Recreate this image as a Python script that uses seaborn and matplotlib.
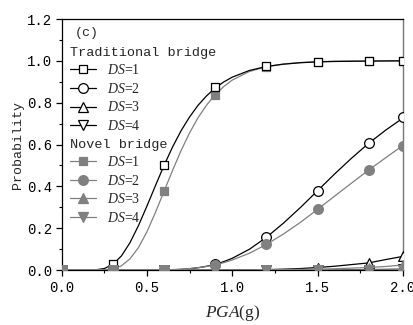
import matplotlib
matplotlib.use("Agg")
import matplotlib.pyplot as plt
from matplotlib.lines import Line2D
from matplotlib.ticker import MultipleLocator
import seaborn as sns

# ---------------- data ----------------
pga_pts = [0.0, 0.3, 0.6, 0.9, 1.2, 1.5, 1.8, 2.0]
trad_ds1_pts = [0.0, 0.027, 0.503, 0.873, 0.976, 0.996, 0.999, 1.0]
trad_ds2_pts = [0.0, 0.0, 0.001, 0.027, 0.156, 0.379, 0.606, 0.730]
trad_ds3_pts = [0.0, 0.0, 0.0, 0.0, 0.002, 0.012, 0.034, 0.065]
trad_ds4_pts = [0.0, 0.0, 0.0, 0.0, 0.0, 0.0, 0.002, 0.004]
novel_ds1_pts = [0.0, 0.005, 0.376, 0.838, 0.972, 0.996, 0.999, 1.0]
novel_ds2_pts = [0.0, 0.0, 0.001, 0.025, 0.122, 0.290, 0.478, 0.595]
novel_ds3_pts = [0.0, 0.0, 0.0, 0.0, 0.001, 0.004, 0.012, 0.024]
novel_ds4_pts = [0.0, 0.0, 0.0, 0.0, 0.0, 0.0, 0.001, 0.002]

pga_curve = [0.0, 0.1, 0.2, 0.25, 0.3, 0.35, 0.4, 0.45, 0.5, 0.55, 0.6, 0.65, 0.7,
             0.75, 0.8, 0.85, 0.9, 0.95, 1.0, 1.1, 1.2, 1.3, 1.4, 1.5, 1.6, 1.7,
             1.8, 1.9, 2.0]
trad_ds1_curve = [0.0, 0.0, 0.001, 0.007, 0.027, 0.067, 0.130, 0.212, 0.306, 0.404,
                  0.500, 0.588, 0.666, 0.732, 0.788, 0.833, 0.870, 0.899, 0.922,
                  0.954, 0.973, 0.984, 0.991, 0.995, 0.997, 0.998, 0.999, 0.9995, 1.0]
novel_ds1_curve = [0.0, 0.0, 0.0, 0.001, 0.005, 0.020, 0.053, 0.107, 0.183, 0.276,
                   0.376, 0.476, 0.571, 0.656, 0.729, 0.789, 0.838, 0.877, 0.908,
                   0.949, 0.972, 0.985, 0.992, 0.996, 0.998, 0.999, 0.999, 1.0, 1.0]
trad_ds2_curve = [0.0, 0.0, 0.0, 0.0, 0.0, 0.0, 0.0, 0.0, 0.0, 0.0,
                  0.001, 0.001, 0.003, 0.006, 0.011, 0.018, 0.027, 0.040, 0.056,
                  0.099, 0.156, 0.224, 0.299, 0.379, 0.459, 0.535, 0.606, 0.669, 0.726]
novel_ds2_curve = [0.0, 0.0, 0.0, 0.0, 0.0, 0.0, 0.0, 0.0, 0.0, 0.0,
                   0.001, 0.002, 0.004, 0.007, 0.011, 0.017, 0.025, 0.035, 0.048,
                   0.080, 0.122, 0.172, 0.228, 0.290, 0.353, 0.416, 0.478, 0.537, 0.595]
trad_ds3_curve = [0.0] * 18 + [0.0004, 0.001, 0.002, 0.004, 0.007, 0.012, 0.018,
                               0.026, 0.034, 0.050, 0.065]
novel_ds3_curve = [0.0] * 20 + [0.001, 0.002, 0.003, 0.004, 0.006, 0.009, 0.012,
                                0.017, 0.024]
trad_ds4_curve = [0.0] * 25 + [0.001, 0.002, 0.003, 0.004]
novel_ds4_curve = [0.0] * 26 + [0.001, 0.001, 0.002]

ds_labels = ["$DS$=1", "$DS$=2", "$DS$=3", "$DS$=4"]
group_titles = ["Traditional bridge", "Novel bridge"]

# ---------------- style ----------------
sns.set_theme(style="ticks")
plt.rcParams["font.family"] = ["Liberation Mono", "DejaVu Sans Mono"]
plt.rcParams["mathtext.fontset"] = "custom"
plt.rcParams["mathtext.it"] = "Liberation Serif:italic"
plt.rcParams["mathtext.rm"] = "Liberation Serif"

BLACK = "#000000"
GRAY = "#808080"
markers = ["s", "o", "^", "v"]
msize_pt = [6.3, 7.0, 7.0, 7.0]

fig = plt.figure(figsize=(4.14, 3.25), dpi=100)
ax = fig.add_axes([0.149, 0.1692, 0.824, 0.7723])

trad_curves = [trad_ds1_curve, trad_ds2_curve, trad_ds3_curve, trad_ds4_curve]
novel_curves = [novel_ds1_curve, novel_ds2_curve, novel_ds3_curve, novel_ds4_curve]
trad_pts = [trad_ds1_pts, trad_ds2_pts, trad_ds3_pts, trad_ds4_pts]
novel_pts = [novel_ds1_pts, novel_ds2_pts, novel_ds3_pts, novel_ds4_pts]

# draw order: novel DS1, traditional all, novel DS2-4
order = [("n", 0), ("t", 0), ("t", 1), ("t", 2), ("t", 3), ("n", 1), ("n", 2), ("n", 3)]
z = 3
for grp, i in order:
    if grp == "t":
        curve, pts, col, face = trad_curves[i], trad_pts[i], BLACK, "white"
    else:
        curve, pts, col, face = novel_curves[i], novel_pts[i], GRAY, GRAY
    sns.lineplot(x=pga_curve, y=curve, color=col, lw=0.9, ax=ax, zorder=z,
                 sort=False, estimator=None)
    sns.scatterplot(x=pga_pts, y=pts, marker=markers[i], s=msize_pt[i] ** 2,
                    facecolor=face, edgecolor=col, linewidth=0.9, ax=ax,
                    zorder=z + 0.5)
    z += 1

ax.set_xlim(0, 2.0)
ax.set_ylim(0, 1.2)
ax.xaxis.set_major_locator(MultipleLocator(0.5))
ax.xaxis.set_minor_locator(MultipleLocator(0.25))
ax.yaxis.set_major_locator(MultipleLocator(0.2))
ax.yaxis.set_minor_locator(MultipleLocator(0.1))
ax.xaxis.set_major_formatter(matplotlib.ticker.FormatStrFormatter("%.1f"))
ax.yaxis.set_major_formatter(matplotlib.ticker.FormatStrFormatter("%.1f"))
ax.tick_params(which="major", direction="out", length=4, width=0.9,
               labelsize=10, pad=3, colors=BLACK)
ax.tick_params(which="minor", direction="out", length=2.5, width=0.8, colors=BLACK)
ax.tick_params(axis="x", which="major", pad=4)
for side in ["left", "bottom", "top"]:
    ax.spines[side].set_visible(True)
    ax.spines[side].set_color(BLACK)
    ax.spines[side].set_linewidth(0.9)
ax.spines["right"].set_visible(True)
ax.spines["right"].set_color("#777777")
ax.spines["right"].set_linewidth(1.0)

ax.set_ylabel("Probability", fontsize=9.5, labelpad=2)
ax.set_xlabel("$PGA$(g)", fontsize=12.5, labelpad=6, family="Liberation Serif")

ax.text(0.037, 0.944, "(c)", transform=ax.transAxes, fontsize=9.5,
        ha="left", va="center")

def handles_for(col, face):
    return [Line2D([], [], color=col, lw=0.9, marker=markers[i],
                   markersize=msize_pt[i], markerfacecolor=face,
                   markeredgecolor=col, markeredgewidth=0.9) for i in range(4)]

leg_kw = dict(loc="upper left", frameon=False, borderpad=0, borderaxespad=0,
              handlelength=1.85, handletextpad=0.85, labelspacing=0.33,
              prop={"family": "Liberation Serif", "size": 10},
              title_fontproperties={"family": "Liberation Mono", "size": 9.7},
              alignment="left")
leg1 = ax.legend(handles_for(BLACK, "white"), ds_labels, title=group_titles[0],
                 bbox_to_anchor=(0.024, 0.888), **leg_kw)
ax.add_artist(leg1)
leg2 = ax.legend(handles_for(GRAY, GRAY), ds_labels, title=group_titles[1],
                 bbox_to_anchor=(0.024, 0.522), **leg_kw)
for leg in (leg1, leg2):
    leg._legend_box.sep = 3
    leg.set_zorder(20)

fig.savefig("out.png", dpi=100)
